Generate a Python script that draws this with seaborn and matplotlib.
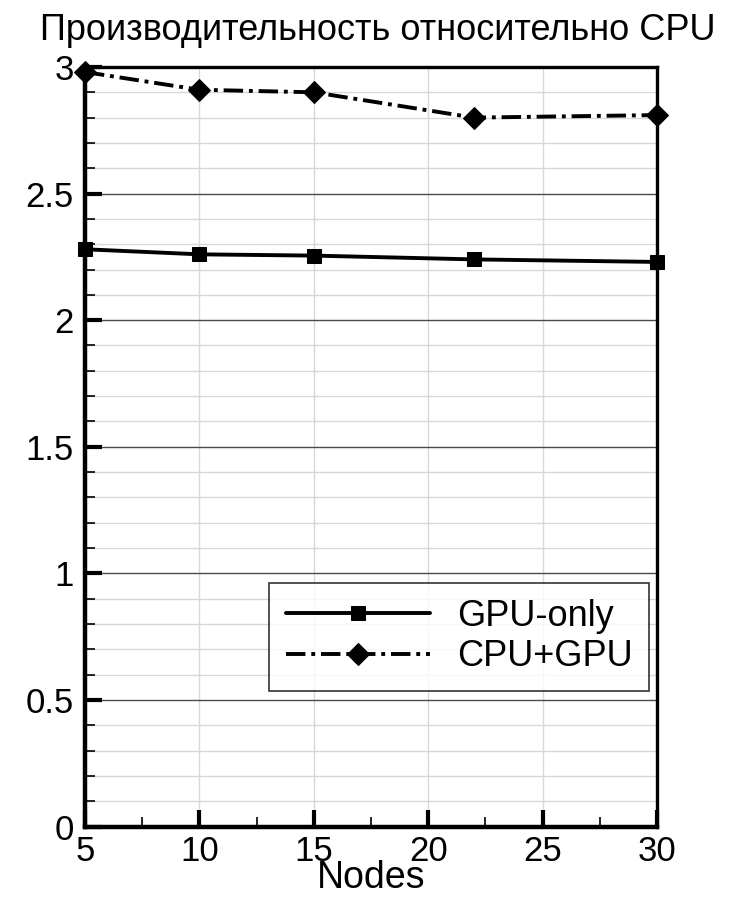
import matplotlib
matplotlib.use("Agg")
import matplotlib.pyplot as plt
from matplotlib.ticker import MultipleLocator, FuncFormatter
import seaborn as sns
import pandas as pd

nodes = [5, 10, 15, 22, 30]
gpu_only = [2.28, 2.26, 2.255, 2.24, 2.23]
cpu_gpu = [2.98, 2.91, 2.90, 2.80, 2.81]
series_names = ["GPU-only", "CPU+GPU"]
title_text = "Производительность относительно CPU"
x_label = "Nodes"

df = pd.concat([
    pd.DataFrame({"Nodes": nodes, "value": gpu_only, "series": series_names[0]}),
    pd.DataFrame({"Nodes": nodes, "value": cpu_gpu, "series": series_names[1]}),
])

sns.set_theme(style="white")
plt.rcParams["font.family"] = ["Liberation Sans", "DejaVu Sans"]

fig = plt.figure(figsize=(7.41, 8.99), dpi=100)
ax = fig.add_axes([0.1147, 0.0806, 0.7719, 0.8449])

sns.lineplot(
    data=df, x="Nodes", y="value", hue="series", style="series",
    palette={series_names[0]: "black", series_names[1]: "black"},
    dashes={series_names[0]: "", series_names[1]: (5, 1.5, 1, 1.5)},
    markers={series_names[0]: "s", series_names[1]: "D"},
    markersize=10, linewidth=2.8, ax=ax, legend=True, zorder=5,
)
for line in ax.lines:
    if line.get_marker() == "D":
        line.set_markersize(11)
    line.set_markeredgecolor("black")
    line.set_clip_on(False)

ax.set_xlim(5, 30)
ax.set_ylim(0, 3)
ax.xaxis.set_major_locator(MultipleLocator(5))
ax.xaxis.set_minor_locator(MultipleLocator(2.5))
ax.yaxis.set_major_locator(MultipleLocator(0.5))
ax.yaxis.set_minor_locator(MultipleLocator(0.1))
ax.yaxis.set_major_formatter(FuncFormatter(lambda v, p: f"{v:g}"))

ax.yaxis.grid(True, which="major", color="#4a4a4a", linewidth=1.0)
ax.yaxis.grid(True, which="minor", color="#d8d8d8", linewidth=1.0)
ax.xaxis.grid(True, which="major", color="#d8d8d8", linewidth=1.0)
ax.xaxis.grid(False, which="minor")
ax.set_axisbelow(True)

ax.tick_params(axis="both", which="major", direction="in", length=12, width=3,
               labelsize=25, color="black", labelcolor="black",
               top=False, right=False, left=True, bottom=True)
ax.tick_params(axis="both", which="minor", direction="in", length=7, width=1.2,
               color="black", top=False, right=False, left=True, bottom=True)
ax.tick_params(axis="y", which="major", pad=8)
ax.tick_params(axis="x", which="major", pad=6)

for side, lw in (("left", 3.2), ("bottom", 3.2), ("top", 2.4), ("right", 2.4)):
    ax.spines[side].set_visible(True)
    ax.spines[side].set_color("black")
    ax.spines[side].set_linewidth(lw)
    ax.spines[side].set_zorder(6)

ax.set_xlabel(x_label, fontsize=27, labelpad=-5.5, color="black")
ax.set_ylabel("")

handles, labels = ax.get_legend_handles_labels()
leg = ax.legend(handles, labels, loc="lower right", bbox_to_anchor=(0.986, 0.179),
                fontsize=26, frameon=True, fancybox=False, edgecolor="black",
                handlelength=4.0, handletextpad=0.75, borderpad=0.45,
                labelspacing=0.15, borderaxespad=0, labelcolor="black")
leg.get_frame().set_linewidth(1.2)
leg.set_zorder(7)

fig.text(0.51, 0.966, title_text, ha="center", va="center",
         fontsize=26, color="black")

fig.savefig("out.png", dpi=100)
